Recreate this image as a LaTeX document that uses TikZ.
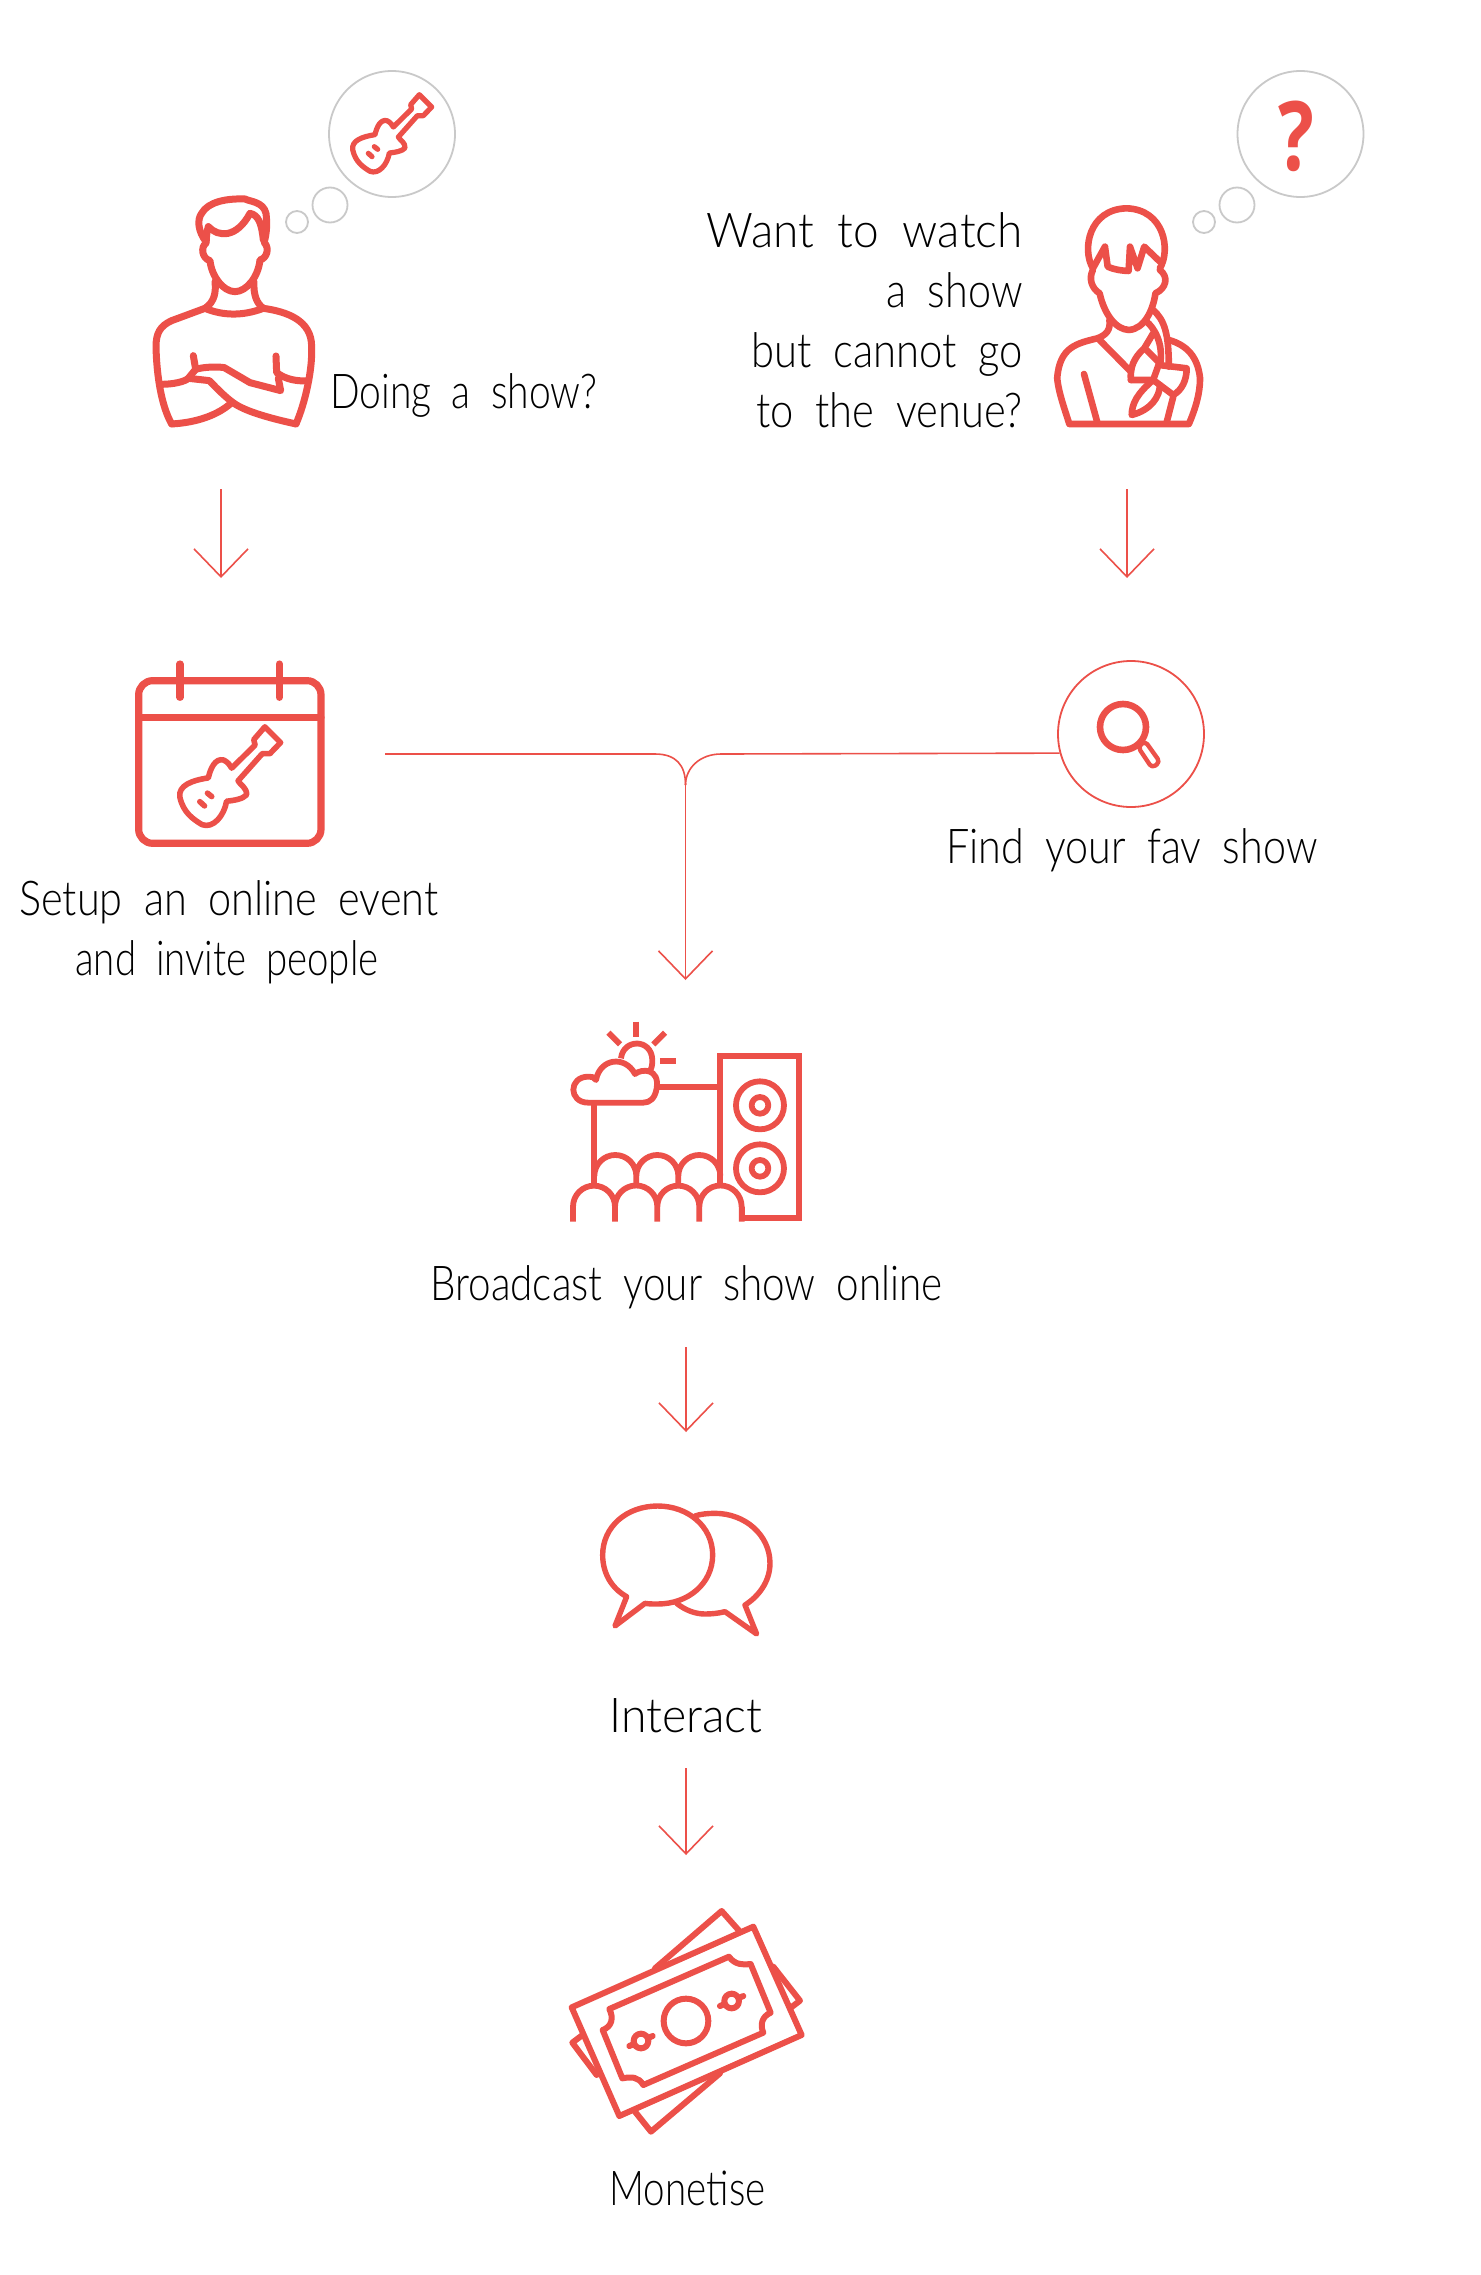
\documentclass[tikz,border=0pt]{standalone}
\usepackage{fontspec}
\usepackage{graphicx}
\usetikzlibrary{arrows.meta}
\setmainfont{Lato Light}[WordSpace=1.9]
\newfontfamily\qfont{Open Sans}
\definecolor{cred}{HTML}{EC5049}
\definecolor{cgray}{HTML}{C9C9C9}
\newcommand{\fitw}[2]{\resizebox{\dimexpr#1pt/2\relax}{\height}{#2}}
\tikzset{
  lbl/.style={inner sep=0pt,font=\fontsize{24}{28}\selectfont,text=black},
  icon/.style={draw=cred,line width=#1,line join=round,line cap=round,fill=none},
  icon/.default=3pt,
  flow/.style={draw=cred,line width=0.8pt},
  flowtip/.style={flow,-{Straight Barb[length=14pt,width=27pt,line width=0.8pt]}},
  bubble/.style={circle,draw=cgray,line width=0.9pt,inner sep=0pt},
  anchorbox/.style={inner sep=0pt,minimum size=1pt}
}
\newcommand{\myguitar}[4]{%
\begin{scope}[shift={(#1,#2)},scale=#3,icon=#4]
  \draw (4,-21) -- (59,-75) -- (56,-88) -- (82,-118) -- (119,-81) -- (94,-55) -- (76,-55) -- (19,9)
    .. controls (25,20) and (40,25) .. (39,42) .. controls (30,52) and (10,55) .. (-8,57)
    .. controls (-14,92) and (-40,122) .. (-66,112)
    .. controls (-85,100) and (-110,85) .. (-118,47)
    .. controls (-122,20) and (-90,8) .. (-51,2)
    .. controls (-46,-20) and (-35,-45) .. (-15,-40)
    .. controls (-5,-35) and (0,-28) .. (4,-21) -- cycle;
  \draw (-71,58) -- (-60,68);
  \draw (-53,38) -- (-43,46);
\end{scope}}
\begin{document}
\begin{tikzpicture}[x=0.5pt,y=-0.5pt]
\path[fill=white] (0,0) rectangle (1480,2275);
\useasboundingbox (0,0) rectangle (1480,2275);

% thought bubbles, left
\node[bubble,minimum size=63pt] (lb1) at (392,134) {};
\node[bubble,minimum size=17.5pt] (lb2) at (330,205) {};
\node[bubble,minimum size=11pt] (lb3) at (297,222) {};
\myguitar{392}{134}{0.3333}{2.6pt}

% man
\node[anchorbox] (man) at (235,330) {};
\begin{scope}[shift={(130,50)},scale=0.3333,icon=3.5pt]
  \draw (228,575) .. controls (205,545) and (200,510) .. (215,490) .. controls (235,455) and (290,445) .. (345,447) .. controls (360,455) and (400,455) .. (408,490) .. controls (412,520) and (410,550) .. (403,575);
  \draw (235,530) .. controls (265,562) and (320,565) .. (360,490) .. controls (385,495) and (395,520) .. (400,570);
  \draw (235,530) .. controls (228,550) and (230,570) .. (228,580) .. controls (212,590) and (215,625) .. (240,632) .. controls (245,680) and (280,725) .. (315,725) .. controls (350,725) and (385,680) .. (390,630) .. controls (410,625) and (420,595) .. (403,578);
  \draw (255,695) .. controls (258,725) and (255,755) .. (225,775);
  \draw (372,695) .. controls (370,735) and (380,760) .. (400,775);
  \draw (225,775) .. controls (280,798) and (340,798) .. (400,775);
  \draw (225,775) -- (125,812) .. controls (90,828) and (78,850) .. (78,890) .. controls (80,980) and (95,1070) .. (125,1122);
  \draw (400,775) .. controls (470,785) and (545,810) .. (545,890) .. controls (548,960) and (525,1060) .. (498,1122);
  \draw (125,1122) .. controls (200,1118) and (265,1095) .. (305,1058);
  \draw (498,1122) .. controls (420,1105) and (350,1085) .. (315,1062) .. controls (290,1045) and (265,1020) .. (238,992) -- (175,985);
  \draw (95,1003) .. controls (130,1003) and (165,995) .. (175,985) -- (197,958) -- (190,917);
  \draw (197,958) .. controls (225,950) and (265,950) .. (283,953) -- (360,998) -- (452,1022) -- (445,985);
  \draw (438,918) -- (440,968) .. controls (470,990) and (500,993) .. (530,993);
\end{scope}
\node[lbl,anchor=base west] (doing) at (330,408) {\fitw{267}{Doing a show?}};

% thought bubbles, right
\node[bubble,minimum size=63pt] (rb1) at (1300.5,134) {};
\node[bubble,minimum size=17.5pt] (rb2) at (1237,205) {};
\node[bubble,minimum size=11pt] (rb3) at (1204,222) {};
\node[inner sep=0pt,text=cred,font=\qfont\bfseries\fontsize{48}{50}\selectfont] (qm) at (1296,136) {\scalebox{0.78}[1]{?}};

% woman
\node[anchorbox] (woman) at (1127,330) {};
\begin{scope}[shift={(680,50)},xscale=0.4464,yscale=0.3333,icon=3.3pt]
  \draw (925,655) .. controls (900,600) and (915,478) .. (1000,475) .. controls (1085,478) and (1100,600) .. (1075,655);
  \draw (925,655) -- (952,590) -- (958,650) .. controls (975,660) and (990,662) .. (1005,663) -- (1008,590) -- (1025,655) -- (1040,590) -- (1075,635);
  \draw (925,660) .. controls (915,685) and (922,715) .. (940,730) .. controls (950,790) and (975,838) .. (1005,840) .. controls (1040,838) and (1060,780) .. (1065,730) .. controls (1090,715) and (1095,680) .. (1075,660);
  \draw (962,810) .. controls (965,840) and (955,855) .. (935,865) .. controls (890,880) and (850,890) .. (845,985) .. controls (848,1030) and (865,1090) .. (872,1122) -- (1140,1122) .. controls (1155,1075) and (1165,1030) .. (1165,985) .. controls (1160,920) and (1135,885) .. (1095,870);
  \draw (1060,780) .. controls (1085,810) and (1095,850) .. (1095,950);
  \draw (1045,815) .. controls (1060,830) and (1085,880) .. (1075,945);
  \draw (1060,850) -- (1040,895) .. controls (1015,925) and (1008,955) .. (1010,990);
  \draw (1045,900) -- (1075,940);
  \draw (940,870) -- (1010,965);
  \draw (1010,990) -- (1060,990) -- (1105,1035) .. controls (1125,1020) and (1135,990) .. (1135,955) -- (1072,945) -- (1060,990);
  \draw (1060,990) .. controls (1025,1030) and (1012,1060) .. (1012,1095) .. controls (1055,1080) and (1075,1040) .. (1075,1005);
  \draw (905,972) -- (935,1118);
  \draw (1105,1040) -- (1090,1118);
\end{scope}
\node[lbl,anchor=base east] (w1) at (1023,247) {\fitw{316}{Want to watch}};
\node[lbl,anchor=base east] (w2) at (1023,307) {\fitw{136}{a show}};
\node[lbl,anchor=base east] (w3) at (1023,367) {\fitw{271}{but cannot go}};
\node[lbl,anchor=base east] (w4) at (1023,427) {\fitw{266}{to the venue?}};

% calendar
\node[anchorbox] (cal) at (230,760) {};
\begin{scope}[shift={(120,640)},scale=0.3333,icon=3.6pt]
  \draw[rounded corners=7pt] (56,122) rectangle (603,610);
  \draw (56,232) -- (603,232);
  \draw (180,72) -- (180,172);
  \draw (478,72) -- (478,172);
\end{scope}
\myguitar{230}{777}{0.425}{2.8pt}
\node[lbl,anchor=base west] (setup1) at (19,915) {\fitw{419}{Setup an online event}};
\node[lbl,anchor=base west] (setup2) at (75,975) {\fitw{303}{and invite people}};

% find
\node[circle,draw=cred,line width=0.9pt,minimum size=73pt,inner sep=0pt] (find) at (1131,734) {};
\begin{scope}[icon=3.3pt]
  \draw (1123,727) circle (23);
  \draw[line width=2.2pt,rounded corners=2pt] (1138,747) -- (1145,741) -- (1160,762) -- (1152,768) -- cycle;
\end{scope}
\node[lbl,anchor=base west] (findt) at (946,863) {\fitw{371}{Find your fav show}};

% stage
\begin{scope}[shift={(520,1000)},scale=0.3333,icon=2.9pt,line cap=butt]
  \draw[line join=miter] (665,620) -- (665,655) -- (838,655) -- (838,167) -- (600,167) -- (600,555);
  \draw (415,262) -- (600,262);
  \draw (223,310) -- (223,555);
  \draw (159,665) -- (159,620) arc[start angle=180,end angle=360,radius=63] (285,665) -- (285,620) arc[start angle=180,end angle=360,radius=63.5] (412,665) -- (412,620) arc[start angle=180,end angle=360,radius=63] (538,665) -- (538,620) arc[start angle=180,end angle=360,radius=63.5] -- (665,665);
  \draw (223,528) arc[start angle=180,end angle=360,radius=63] (349,555) -- (349,528) arc[start angle=180,end angle=360,radius=63] (475,555) -- (475,528) arc[start angle=180,end angle=360,radius=63];
  \draw (720,316) circle (72) (720,316) circle (25);
  \draw (720,505) circle (72) (720,505) circle (25);
  \draw (349,65) -- (349,110);
  \draw (265,98) -- (300,133);
  \draw (435,98) -- (400,133);
  \draw (420,182) -- (468,182);
  \draw (303,175) .. controls (310,115) and (395,115) .. (397,180) .. controls (397,195) and (395,205) .. (390,215);
  \draw (370,308) -- (205,308) .. controls (145,308) and (145,230) .. (205,230) .. controls (215,228) and (222,232) .. (228,240) .. controls (240,175) and (315,165) .. (345,222) .. controls (365,205) and (420,205) .. (410,265) .. controls (405,295) and (390,308) .. (370,308) -- cycle;
\end{scope}
\node[anchorbox] (stage) at (686,1030) {};
\node[lbl,anchor=base west] (broad) at (430,1300) {\fitw{512}{Broadcast your show online}};

% chat
\node[anchorbox] (chat) at (686,1500) {};
\begin{scope}[shift={(580,1480)},scale=0.3333,icon=2.7pt]
  \draw (140,350) .. controls (95,325) and (68,280) .. (68,225) .. controls (68,140) and (140,78) .. (233,78) .. controls (325,78) and (398,140) .. (398,225) .. controls (398,310) and (325,372) .. (233,372) .. controls (220,372) and (205,372) .. (195,370) -- (105,438) -- cycle;
  \draw (345,108) .. controls (360,102) and (385,100) .. (405,100) .. controls (495,100) and (570,165) .. (570,250) .. controls (570,305) and (535,350) .. (495,375) -- (530,462) -- (435,395) .. controls (415,400) and (395,402) .. (375,402) .. controls (345,402) and (315,390) .. (290,370);
\end{scope}
\node[lbl,anchor=base west] (interact) at (609,1732) {\fitw{153}{Interact}};

% money
\begin{scope}[shift={(540,1890)},scale=0.3333,icon=3pt]
  \draw (95,352) -- (640,110) -- (785,435) -- (238,678) -- cycle;
  \draw (208,357) -- (567,200) .. controls (585,225) and (610,225) .. (632,222) -- (692,368) .. controls (665,380) and (660,405) .. (670,428) -- (310,585) .. controls (295,560) and (275,560) .. (247,565) -- (188,420) .. controls (215,410) and (222,385) .. (208,357) -- cycle;
  \draw (438,393) circle (67);
  \draw (303,453) circle (22);
  \draw (268,468) -- (282,462) (324,444) -- (338,438);
  \draw (575,333) circle (22);
  \draw (540,348) -- (554,342) (596,324) -- (610,318);
  \draw (345,235) -- (545,63) -- (600,125);
  \draw (700,230) -- (780,332) -- (750,355);
  \draw (540,550) -- (333,725) -- (285,665);
  \draw (170,555) -- (97,458) -- (125,437);
\end{scope}
\node[anchorbox] (money) at (686,1990) {};
\node[lbl,anchor=base west] (monet) at (609,2205) {\fitw{156}{Monetise}};

% connectors
\coordinate (a1s) at (221,489); \coordinate (a1e) at (221,578);
\coordinate (a2s) at (1127,489); \coordinate (a2e) at (1127,578);
\coordinate (j0) at (385,754); \coordinate (j1) at (655,754); \coordinate (j2) at (721,754); \coordinate (jm) at (685.5,785);
\coordinate (a3e) at (685.5,980);
\coordinate (a4s) at (686,1347); \coordinate (a4e) at (686,1432);
\coordinate (a5s) at (686,1768); \coordinate (a5e) at (686,1855);
\draw[flowtip] (a1s) -- (a1e);
\draw[flowtip] (a2s) -- (a2e);
\draw[flow] (j0) -- (j1) .. controls (676,754) and (685.5,765) .. (jm);
\draw[flow] (find.195.9) -- (j2) .. controls (700,754) and (685.5,768) .. (jm);
\draw[flowtip] (jm) -- (a3e);
\draw[flowtip] (a4s) -- (a4e);
\draw[flowtip] (a5s) -- (a5e);
\end{tikzpicture}
\end{document}
